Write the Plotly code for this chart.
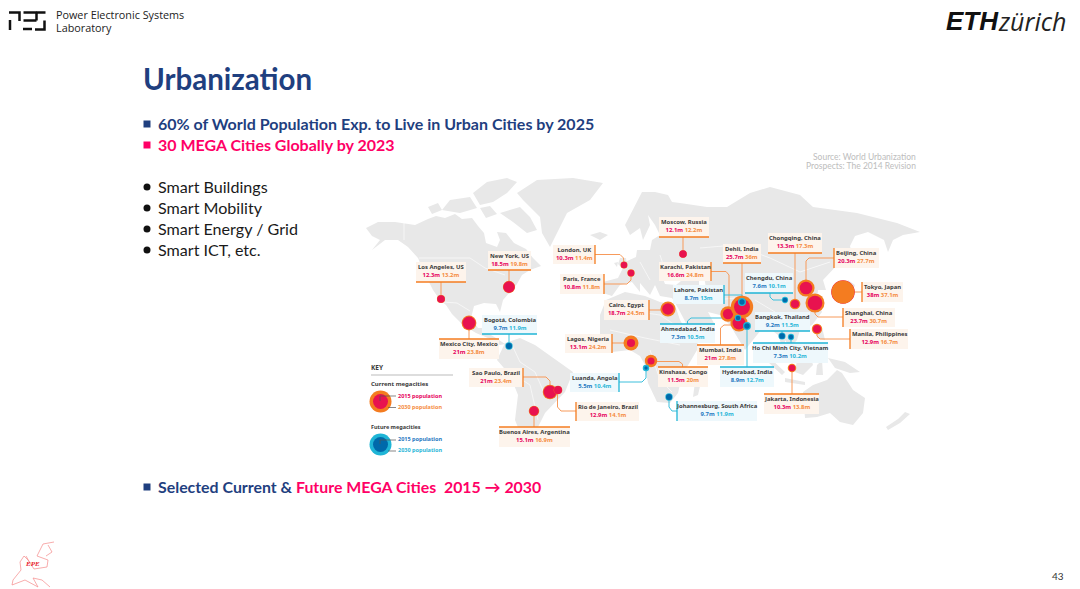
import plotly.graph_objects as go

# city values, millions of people
current_names = ["Los Angeles, US", "New York, US", "London, UK", "Paris, France", "Moscow, Russia",
                 "Cairo, Egypt", "Lagos, Nigeria", "Kinshasa, Congo", "Mexico City, Mexico", "Sao Paulo, Brazil",
                 "Rio de Janeiro, Brazil", "Buenos Aires, Argentina", "Karachi, Pakistan", "Mumbai, India",
                 "Dehli, India", "Chongqing, China", "Beijing, China", "Shanghai, China", "Tokyo, Japan",
                 "Manila, Philippines", "Jakarta, Indonesia"]
current_2015 = [12.3, 18.5, 10.3, 10.8, 12.1, 18.7, 13.1, 11.5, 21, 21, 12.9, 15.1, 16.6, 21, 25.7, 13.3, 20.3, 23.7, 38, 12.9, 10.3]
current_2030 = [13.2, 19.8, 11.4, 11.8, 12.2, 24.5, 24.2, 20, 23.8, 23.4, 14.1, 16.9, 24.8, 27.8, 36, 17.3, 27.7, 30.7, 37.1, 16.7, 13.8]
current_x = [441, 509, 624, 631, 683, 668, 631, 651, 469, 550, 558, 534, 728, 739, 742, 795, 806, 815, 843, 817, 792]
current_y = [299, 287, 265, 273, 254, 309, 343, 361, 323, 392, 390, 411, 314, 323, 307, 304, 288, 303, 292, 329, 368]

future_names = ["Bogotá, Colombia", "Luanda, Angola", "Johannesburg, South Africa", "Lahore, Pakistan",
                "Ahmedabad, India", "Hyderabad, India", "Chengdu, China", "Bangkok, Thailand", "Ho Chi Minh City, Vietnam"]
future_2015 = [9.7, 5.5, 9.7, 8.7, 7.3, 8.9, 7.6, 9.2, 7.3]
future_2030 = [11.9, 10.4, 11.9, 13, 10.5, 12.7, 10.1, 11.5, 10.2]
future_x = [509, 646, 669, 742, 738, 747, 785, 782, 791]
future_y = [346, 368, 397, 302, 318, 326, 300, 336, 337]

# label boxes (x0, y0, x1, y1) and which side has the coloured rule
current_boxes = [(416, 262, 466, 282), (488, 251, 531, 270), (553, 245, 595, 264), (560, 274, 604, 294), (659, 217, 709, 237),
                 (604, 300, 649, 320), (565, 334, 612, 353), (658, 367, 708, 387), (439, 339, 499, 359), (469, 368, 523, 387),
                 (576, 402, 639, 421), (499, 427, 570, 447), (659, 262, 711, 281), (697, 345, 744, 365), (723, 244, 761, 263),
                 (768, 233, 822, 253), (834, 248, 879, 268), (843, 308, 895, 327), (862, 282, 903, 302), (850, 329, 908, 349),
                 (764, 394, 819, 414)]
current_sides = ["b", "b", "r", "r", "b", "r", "r", "t", "t", "r", "l", "t", "r", "t", "b", "b", "l", "l", "l", "l", "t"]
current_leaders = [
    [(441, 282), (441, 299)], [(509, 270), (509, 287)], [(595, 254.5), (620, 254.5), (623.5, 258), (624, 265)],
    [(604, 284), (627, 284), (631, 280), (631, 273)], [(683, 237), (683, 254)], [(649, 310), (668, 310)],
    [(612, 343), (631, 343)], [(651, 361.5), (679, 361.5), (682.5, 364), (682.5, 367)], [(469, 323), (469, 339)],
    [(523, 377), (546, 377), (550, 381), (550, 392)], [(557.5, 390), (557.5, 407), (561, 411), (576, 411)],
    [(534, 411), (534, 427)], [(711, 271.5), (726, 271.5), (729, 275), (729, 312)], [(720.5, 345), (720.5, 328), (724, 325), (739, 325)],
    [(742, 263), (742, 307)], [(795, 253), (795, 304)], [(834, 258), (809, 258), (806, 261), (806, 288)],
    [(815, 303), (815, 314), (818, 317), (843, 317)], [(843, 292), (862, 292)], [(817, 329), (817, 336), (820, 339), (850, 339)],
    [(792, 368), (792, 394)],
]
future_boxes = [(482, 315, 537, 334), (570, 373, 619, 392), (677, 401, 757, 421), (673, 285, 724, 304), (660, 324, 715, 343),
                (720, 367, 774, 387), (745, 273, 793, 293), (755, 312, 810, 331), (753, 343, 828, 363)]
future_sides = ["b", "r", "l", "r", "t", "t", "b", "b", "t"]
future_leaders = [
    [(509, 334), (509, 346)], [(619, 382), (642, 382), (646, 378), (646, 368)], [(669, 397), (669, 407), (672, 411), (677, 411)],
    [(724, 295), (742, 295), (742, 302)], [(687.5, 324), (687.5, 321), (691, 318), (738, 318)], [(747, 326), (747, 367)],
    [(770, 293), (770, 297), (773, 300), (785, 300)], [(782, 331), (782, 336)], [(791, 337), (791, 343)],
]

# land outlines
land_shapes = [
    # north and central america
    [(366, 228), (378, 222), (395, 222), (415, 225), (428, 219), (436, 216), (445, 218), (455, 214), (462, 219), (472, 218), (478, 226),
     (484, 233), (486, 243), (497, 247), (500, 240), (497, 232), (506, 233), (514, 243), (526, 249), (533, 258), (541, 266), (530, 270),
     (522, 275), (517, 284), (510, 292), (503, 300), (500, 312), (496, 304), (484, 303), (474, 306), (471, 318), (478, 328), (484, 328),
     (486, 322), (490, 326), (486, 332), (496, 338), (505, 344), (500, 345), (488, 338), (476, 333), (463, 325), (452, 314), (446, 305),
     (440, 300), (433, 290), (424, 272), (418, 258), (408, 247), (398, 240), (385, 240), (372, 250), (380, 240), (372, 236)],
    # arctic islands
    [(473, 193), (487, 182), (507, 178), (517, 182), (507, 193), (493, 202), (480, 205)],
    [(500, 213), (520, 207), (530, 217), (537, 230), (527, 233), (513, 222)],
    [(450, 200), (470, 197), (477, 208), (460, 213), (442, 210)],
    [(428, 207), (438, 203), (442, 210), (432, 214)],
    [(480, 208), (490, 206), (497, 214), (486, 218)],
    # greenland, iceland, britain
    [(517, 193), (537, 180), (573, 178), (603, 183), (590, 200), (567, 213), (557, 233), (550, 247), (542, 233), (540, 217), (523, 200)],
    [(590, 235), (600, 232), (608, 235), (600, 240)],
    [(620, 258), (626, 258), (627, 266), (622, 268), (618, 264)],
    [(614, 263), (618, 262), (617, 267)],
    # south america
    [(505, 343), (520, 338), (535, 345), (553, 358), (573, 372), (565, 392), (557, 400), (545, 413), (540, 423), (535, 433), (525, 445),
     (515, 420), (518, 395), (510, 375), (497, 360)],
    # africa, madagascar
    [(606, 300), (625, 292), (645, 296), (660, 302), (675, 305), (680, 320), (692, 340), (700, 345), (690, 362), (682, 375), (678, 393),
     (670, 403), (657, 402), (648, 383), (645, 365), (640, 356), (630, 350), (612, 352), (600, 335), (600, 315)],
    [(695, 382), (701, 382), (698, 395), (693, 397)],
    # eurasia
    [(642, 192), (655, 192), (668, 195), (672, 202), (680, 203), (707, 207), (727, 207), (750, 193), (770, 187), (800, 195), (813, 207),
     (857, 213), (897, 223), (920, 232), (903, 235), (893, 240), (888, 252), (884, 240), (868, 232), (855, 236), (850, 246), (852, 255),
     (840, 262), (830, 273), (823, 280), (826, 290), (818, 290), (817, 300), (822, 312), (812, 325), (800, 330), (797, 340), (790, 348),
     (785, 340), (785, 355), (778, 335), (765, 325), (745, 350), (730, 325), (720, 315), (708, 312), (715, 325), (695, 340), (678, 308),
     (672, 298), (660, 296), (655, 285), (650, 295), (640, 283), (640, 292), (632, 282), (620, 285), (612, 296), (600, 292), (603, 282),
     (618, 278), (622, 270), (625, 262), (636, 257), (637, 250), (650, 250), (652, 240), (660, 235), (655, 225), (648, 215), (650, 225),
     (643, 240), (640, 228), (630, 235), (625, 225), (635, 205)],
    [(848, 280), (855, 285), (850, 298), (838, 303), (835, 300), (845, 292)],
    [(770, 358), (785, 372), (782, 375), (768, 362)],
    [(797, 360), (810, 355), (813, 365), (803, 375), (795, 372)],
    [(785, 378), (805, 382), (805, 385), (785, 382)],
    [(817, 365), (822, 360), (823, 375), (816, 375)],
    [(815, 325), (822, 327), (825, 340), (817, 338)],
    [(828, 358), (845, 362), (860, 372), (850, 373), (835, 368)],
    # australia, new zealand
    [(803, 392), (813, 385), (827, 380), (837, 370), (842, 373), (853, 390), (865, 398), (863, 413), (853, 425), (840, 422), (830, 413), (817, 417), (805, 418)],
    [(905, 412), (910, 414), (900, 423), (888, 430), (886, 427), (898, 419)],
]
sea_shapes = [
    [(663, 279), (672, 277), (681, 281), (676, 285), (665, 284)],
    [(699, 275), (704, 276), (706, 288), (703, 295), (699, 288)],
]
border_lines = [
    [(404, 222), (404, 240)], [(419, 258), (470, 258), (485, 268), (505, 275)], [(443, 302), (457, 303), (470, 311)],
    [(512, 345), (520, 362), (535, 372), (545, 395)], [(510, 372), (530, 385), (538, 420)],
    [(700, 248), (735, 245), (770, 258), (800, 272), (830, 262)], [(660, 255), (668, 280)], [(640, 262), (650, 280)],
    [(755, 300), (775, 312), (785, 322)], [(715, 300), (735, 298), (745, 310)], [(690, 300), (712, 303)],
    [(625, 310), (660, 315), (675, 325)], [(610, 330), (645, 338), (680, 345)], [(650, 350), (660, 380), (672, 392)],
]

PINK = "#e8124f"
ORANGE = "#f47c20"
BLUE = "#0069aa"
CYAN = "#1fb5d6"
NAVY = "#1f3f7f"
HOT = "#ff0066"
PX_PER_M = 0.62


def path_xy(paths, close=False):
    xs, ys = [], []
    for p in paths:
        pts = list(p) + ([p[0]] if close else [])
        xs += [q[0] for q in pts] + [None]
        ys += [q[1] for q in pts] + [None]
    return xs, ys


def rect(b):
    return [(b[0], b[1]), (b[2], b[1]), (b[2], b[3]), (b[0], b[3])]


def rule(b, side):
    return {"b": [(b[0], b[3]), (b[2], b[3])], "t": [(b[0], b[1]), (b[2], b[1])],
            "l": [(b[0], b[1]), (b[0], b[3])], "r": [(b[2], b[1]), (b[2], b[3])]}[side]


fig = go.Figure()


def add_fill(paths, color):
    xs, ys = path_xy(paths, close=True)
    fig.add_trace(go.Scatter(x=xs, y=ys, mode="lines", fill="toself", fillcolor=color, line=dict(width=0), hoverinfo="skip"))


def add_lines(paths, color, width):
    xs, ys = path_xy(paths)
    fig.add_trace(go.Scatter(x=xs, y=ys, mode="lines", line=dict(color=color, width=width), hoverinfo="skip"))


add_fill(land_shapes, "#e8e8e8")
add_fill(sea_shapes, "white")
add_lines(border_lines, "white", 0.6)
add_fill([rect(b) for b in current_boxes], "#fdf4ec")
add_fill([rect(b) for b in future_boxes], "#eef8fc")
add_lines(current_leaders, "#f79a5b", 1)
add_lines(future_leaders, "#3cbfdc", 1)
add_lines([rule(b, s) for b, s in zip(current_boxes, current_sides)], ORANGE, 1.3)
add_lines([rule(b, s) for b, s in zip(future_boxes, future_sides)], CYAN, 1.3)

# bubbles, bigger ring first so the smaller one stays visible
bx, by, bs, bc = [], [], [], []
for x, y, a, b in zip(current_x, current_y, current_2015, current_2030):
    for v, c in sorted([(a, PINK), (b, ORANGE)], key=lambda t: -t[0]):
        bx.append(x), by.append(y), bs.append(v * PX_PER_M), bc.append(c)
for x, y, a, b in zip(future_x, future_y, future_2015, future_2030):
    for v, c in sorted([(a, BLUE), (b, CYAN)], key=lambda t: -t[0]):
        bx.append(x), by.append(y), bs.append(v * PX_PER_M), bc.append(c)
fig.add_trace(go.Scatter(x=bx, y=by, mode="markers", marker=dict(size=bs, color=bc, opacity=1, line=dict(width=0)), hoverinfo="skip"))

# key
fig.add_trace(go.Scatter(x=[380.5, 380.5, 380.5, 380.5], y=[401.5, 401.5, 444.5, 444.5], mode="markers",
                         marker=dict(size=[22, 15, 22, 15], color=[ORANGE, PINK, CYAN, BLUE], opacity=1, line=dict(width=0)), hoverinfo="skip"))
add_lines([[(380, 401), (380, 396), (396, 396)], [(388, 407.5), (396, 407.5)],
           [(380, 444), (380, 440), (396, 440)], [(388, 451), (396, 451)]], "#555555", 0.7)
add_lines([[(371, 375), (453, 375)]], "#bbbbbb", 1)

# logos
add_lines([[(9, 12.5), (19.5, 12.5), (19.5, 21)], [(10, 20), (10, 30)], [(23.5, 12.5), (36.5, 12.5)], [(23.5, 20.5), (36.5, 20.5)],
           [(23, 29), (32, 29)], [(36, 12.5), (45.5, 12.5)], [(36.5, 12.5), (36.5, 20.5)], [(44.5, 20.5), (44.5, 29.5), (35, 29.5)]],
          "#111111", 2.5)
add_lines([[(54, 542), (43, 544), (37, 556), (48, 560), (47, 567), (34, 569), (28, 560), (24, 556), (20, 562), (21, 570), (13, 580), (12, 585),
            (25, 580), (38, 587), (33, 578), (42, 580), (50, 587)], [(48, 545), (52, 552), (46, 556)], [(26, 556), (30, 563)]], "#f58a8a", 0.7)

texts = []


def add_text(x, y, s, size, color, anchor="left", family="Lato"):
    texts.append(dict(x=x, y=y, xref="x", yref="y", text=s, showarrow=False, xanchor=anchor, yanchor="middle", align=anchor,
                      borderpad=0, xshift=-1 if anchor == "left" else 0, yshift=1,
                      font=dict(size=size, color=color, family=family)))


def city_labels(names, v15, v30, boxes, col15, col30):
    for name, a, b, box in zip(names, v15, v30, boxes):
        s = (f"<b>{name}</b><br><b><span style='color:{col15}'>{a:g}m</span> "
             f"<span style='color:{col30}'>{b:g}m</span></b>")
        add_text((box[0] + box[2]) / 2, (box[1] + box[3]) / 2, s, 5.9, "#3a3a3a", "center", "Noto Sans")


city_labels(current_names, current_2015, current_2030, current_boxes, "#e6005c", "#f58b3e")
city_labels(future_names, future_2015, future_2030, future_boxes, "#1f78c1", "#29b6d8")

add_text(56, 15, "Power Electronic Systems", 10.8, "#222222", family="Open Sans")
add_text(56, 28, "Laboratory", 10.8, "#222222", family="Open Sans")
add_text(946, 22, "<b><i>ETH</i></b>", 26, "#111111", family="Liberation Sans")
add_text(998, 22, "<i>zürich</i>", 25, "#222222", family="Open Sans")
add_text(143, 79, "<b>Urbanization</b>", 29.5, NAVY)
add_text(158, 124, "<b>60% of World Population Exp. to Live in Urban Cities by 2025</b>", 16, NAVY)
add_text(158, 145, "<b>30 MEGA Cities Globally by 2023</b>", 16, HOT)
for i, s in enumerate(["Smart Buildings", "Smart Mobility", "Smart Energy / Grid", "Smart ICT, etc."]):
    add_text(158, 187 + i * 21, s, 16.1, "#1a1a1a")
add_text(158, 487, f"<b>Selected Current &amp; <span style='color:{HOT}'>Future MEGA Cities  2015 → 2030</span></b>", 15.9, NAVY)
add_text(917, 158, "Source: World Urbanization", 8.5, "#bdbdbd", "right")
add_text(917, 167, "Prospects: The 2014 Revision", 8.5, "#bdbdbd", "right")
add_text(1058, 577, "43", 10, "#333333", "center")
add_text(32, 565, "<b><i>EPE</i></b>", 7, "#e8202a", "center", "Liberation Serif")

add_text(371, 368, "<b>KEY</b>", 6.5, "#3a3a3a", family="Noto Sans")
add_text(371, 385, "<b>Current megacities</b>", 6, "#3a3a3a", family="Noto Sans")
add_text(398, 396.5, "<b>2015 population</b>", 5.5, "#e6005c", family="Noto Sans")
add_text(398, 407.5, "<b>2030 population</b>", 5.5, "#f58b3e", family="Noto Sans")
add_text(371, 427.5, "<b>Future megacities</b>", 5.5, "#3a3a3a", family="Noto Sans")
add_text(398, 440, "<b>2015 population</b>", 5.5, "#1f78c1", family="Noto Sans")
add_text(398, 451, "<b>2030 population</b>", 5.5, "#29b6d8", family="Noto Sans")

# square and round bullets
bullets = [(147, 124, "square", NAVY, 7), (147, 145, "square", HOT, 7), (147, 487, "square", NAVY, 7)]
bullets += [(147, 187 + i * 21, "circle", "#111111", 7) for i in range(4)]
fig.add_trace(go.Scatter(x=[b[0] for b in bullets], y=[b[1] for b in bullets], mode="markers", hoverinfo="skip",
                         marker=dict(symbol=[b[2] for b in bullets], color=[b[3] for b in bullets], size=[b[4] for b in bullets],
                                     opacity=1, line=dict(width=0))))

fig.update_layout(width=1080, height=589, margin=dict(l=0, r=0, t=0, b=0), showlegend=False, annotations=texts,
                  paper_bgcolor="white", plot_bgcolor="white",
                  xaxis=dict(range=[0, 1080], visible=False, fixedrange=True),
                  yaxis=dict(range=[589, 0], visible=False, fixedrange=True))
fig.write_html("out.html", config=dict(displayModeBar=False), post_script="document.body.style.margin='0';")
